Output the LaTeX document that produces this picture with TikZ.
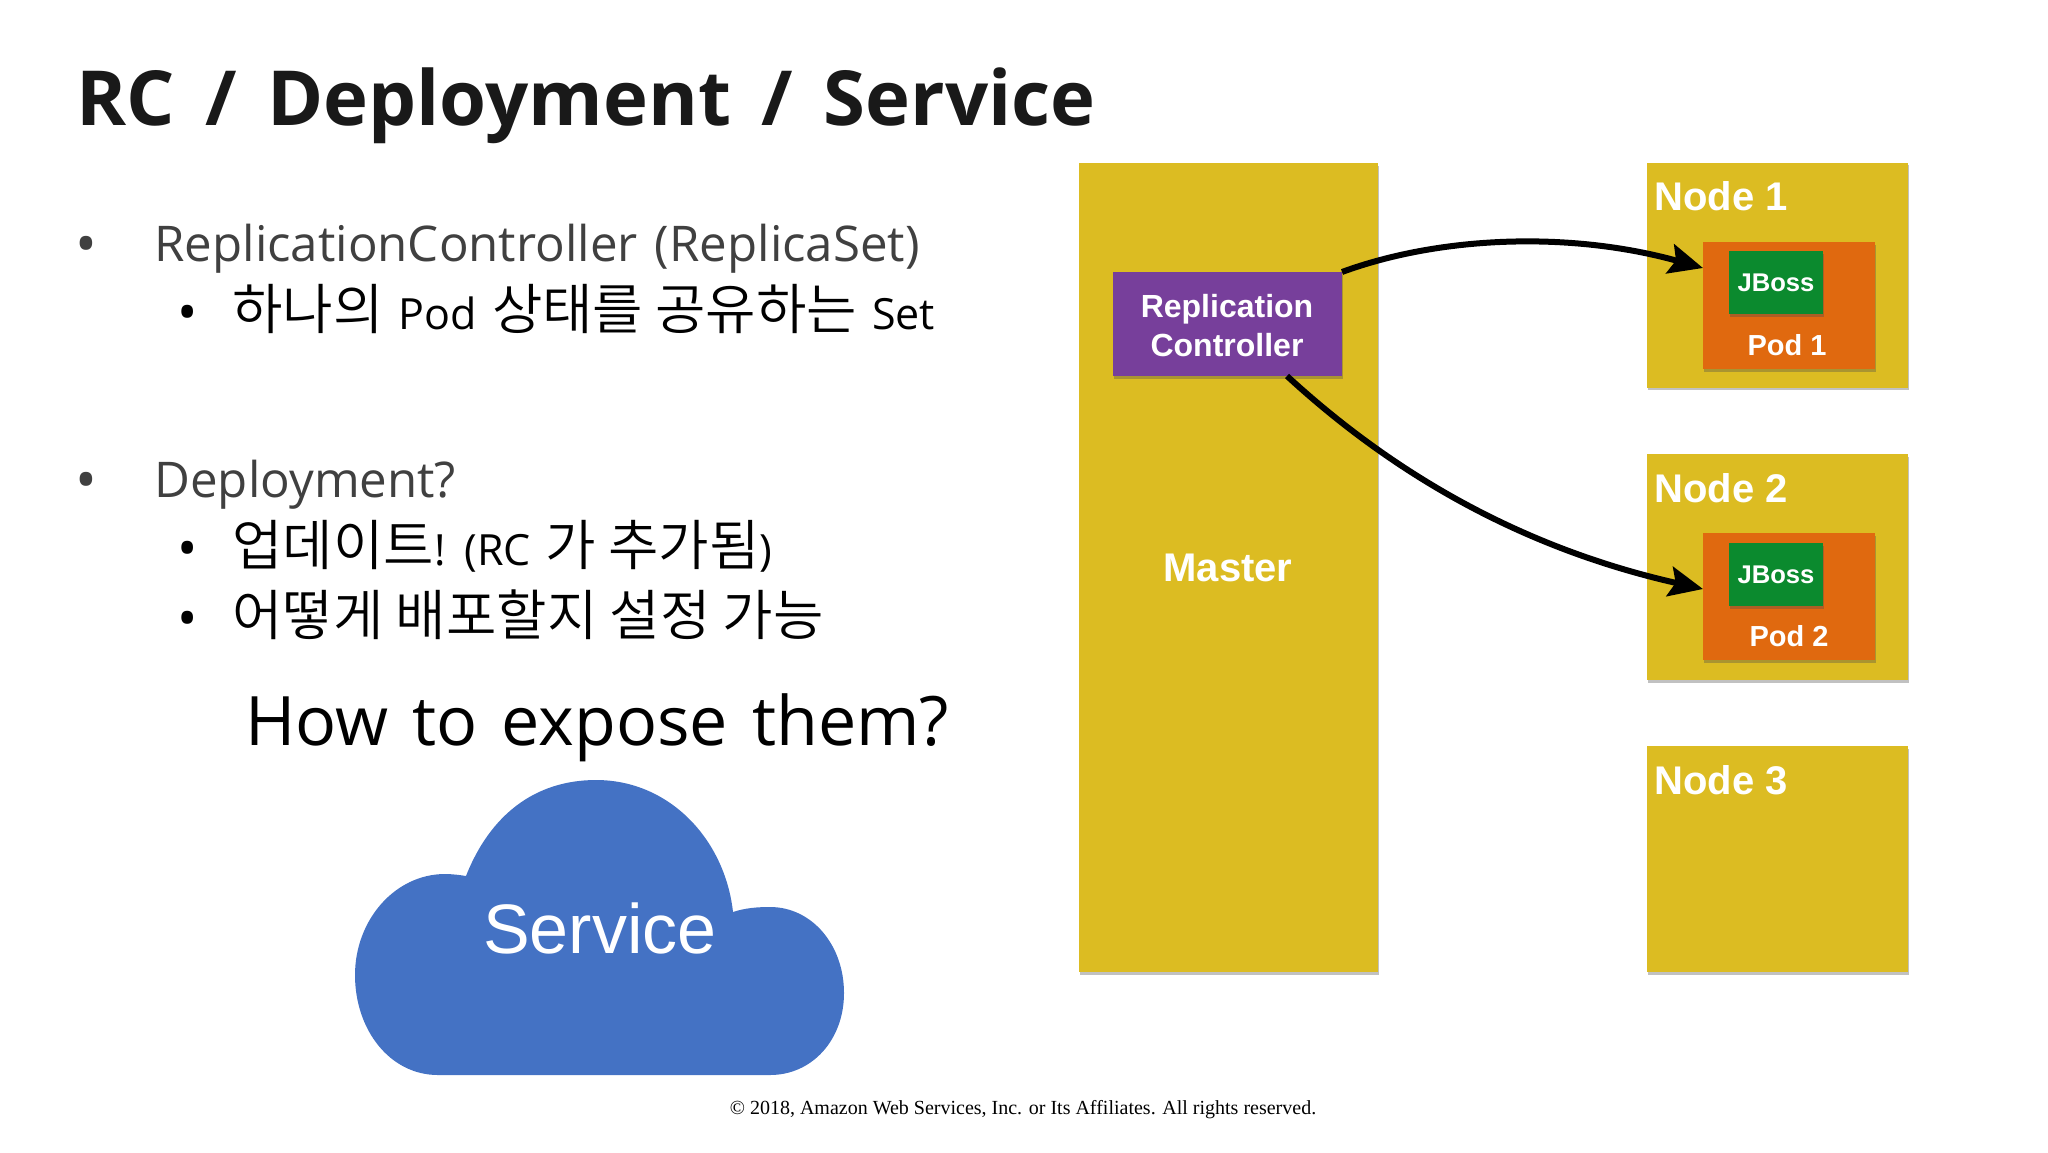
\documentclass[tikz,border=0pt]{standalone}
\usepackage{fontspec}
\setmainfont[WordSpace=1.35]{Open Sans}
\newfontfamily\titlefont[WordSpace=1.55]{Open Sans}
\newfontfamily\krfont{Noto Sans CJK KR DemiLight}
\newfontfamily\boxfont{Liberation Sans}
\newfontfamily\footfont{Liberation Serif}
\usetikzlibrary{arrows.meta,shadows}
\definecolor{masteryellow}{HTML}{DCBC22}
\definecolor{rcpurple}{HTML}{773F9B}
\definecolor{podorange}{HTML}{E0690F}
\definecolor{jbossgreen}{HTML}{0B8A2E}
\definecolor{cloudblue}{HTML}{4472C4}
\definecolor{bodygray}{HTML}{404040}
\newcommand{\kr}[1]{{\krfont\fontsize{27.4}{32}\selectfont #1}}
\tikzset{
	box/.style={anchor=north west,inner sep=0pt,outer sep=0pt,text=white,
		font=\boxfont\bfseries,drop shadow={shadow xshift=0.6pt,shadow yshift=-1.4pt,opacity=0.35,fill=black!70}},
	boxlabel/.style={text=white,inner sep=0pt,font=\boxfont\bfseries\fontsize{20}{24}\selectfont},
	outer/.style={anchor=base west,inner sep=0pt,text=bodygray,font=\fontsize{24.6}{28}\selectfont},
	inner/.style={anchor=base west,inner sep=0pt,text=black,font=\fontsize{21.5}{28}\selectfont},
	dotouter/.style={anchor=base west,inner sep=0pt,text=bodygray,font=\fontsize{29}{28}\selectfont},
	dotinner/.style={anchor=base west,inner sep=0pt,text=black,font=\fontsize{27}{28}\selectfont},
	link/.style={line width=3pt,-{Stealth[length=17pt,width=15pt,inset=3pt]}}
}
\begin{document}
\begin{tikzpicture}[x=0.5pt,y=-0.5pt]
	\useasboundingbox (0,0) rectangle (2048,1152);
	\node [anchor=base west,inner sep=0pt,text=black!90,font=\titlefont\bfseries\fontsize{38}{48}\selectfont] (title) at (76,125) {RC / Deployment / Service};
	% left column
	\node [dotouter] (b1) at (75,264) {•};
	\node [outer] (t1) at (154,261) {ReplicationController (ReplicaSet)};
	\node [dotinner] (b2) at (177,331) {•};
	\node [inner] (t2) at (232,329) {\kr{하나의} Pod \kr{상태를 공유하는} Set};
	\node [dotouter] (b3) at (75,500) {•};
	\node [outer] (t3) at (154,497) {Deployment?};
	\node [dotinner] (b4) at (177,567) {•};
	\node [inner] (t4) at (232,565) {\kr{업데이트}! (RC \kr{가 추가됨})};
	\node [dotinner] (b5) at (177,637) {•};
	\node [inner] (t5) at (232,635) {\kr{어떻게 배포할지 설정 가능}};
	\node [anchor=base west,inner sep=0pt,font=\fontsize{34.1}{42}\selectfont] (expose) at (245,745) {How to expose them?};
	% cloud
	\fill [cloudblue] (438,1075) .. controls (390,1075) and (355,1030) .. (355,975)
		.. controls (355,920) and (395,874) .. (445,874)
		.. controls (452,874) and (460,875) .. (466,876)
		.. controls (490,815) and (535,780) .. (596,780)
		.. controls (670,780) and (725,840) .. (733,912)
		.. controls (745,908) and (757,907) .. (770,907)
		.. controls (812,907) and (844,945) .. (844,993)
		.. controls (844,1040) and (812,1075) .. (770,1075) -- cycle;
	\node [anchor=base,inner sep=0pt,text=white,font=\boxfont\fontsize{35}{42}\selectfont] (service) at (600,953) {Service};
	\node [anchor=base,inner sep=0pt,font=\footfont\fontsize{10}{12}\selectfont] (copyright) at (1023,1114) {© 2018, Amazon Web Services, Inc. or Its Affiliates. All rights reserved.};
	% master and nodes
	\node [box,fill=masteryellow,minimum width=149.5pt,minimum height=404.5pt] (master) at (1079,163) {};
	\node [boxlabel] (masterlabel) at (1228,568) {Master};
	\node [box,fill=rcpurple,minimum width=114.5pt,minimum height=52pt] (rc) at (1113,272) {};
	\node [align=center,inner sep=0pt,text=white,font=\boxfont\bfseries\fontsize{16}{19.5}\selectfont] (rclabel) at (1227,326) {Replication\\Controller};
	\node [box,fill=masteryellow,minimum width=130.5pt,minimum height=112.5pt] (node1) at (1647,162.5) {};
	\node [box,fill=masteryellow,minimum width=130.5pt,minimum height=113pt] (node2) at (1647,454) {};
	\node [box,fill=masteryellow,minimum width=130.5pt,minimum height=113pt] (node3) at (1647,746) {};
	\node [boxlabel,anchor=base west] (n1) at (1654,210) {Node 1};
	\node [boxlabel,anchor=base west] (n2) at (1654,502) {Node 2};
	\node [boxlabel,anchor=base west] (n3) at (1654,794) {Node 3};
	\node [box,fill=podorange,minimum width=86pt,minimum height=63.5pt] (pod1) at (1703,242) {};
	\node [box,fill=podorange,minimum width=86pt,minimum height=63.5pt] (pod2) at (1703,533) {};
	\node [box,fill=jbossgreen,minimum width=47pt,minimum height=31.5pt,font=\boxfont\bfseries\fontsize{12.8}{15}\selectfont] (jboss1) at (1729,251) {JBoss};
	\node [box,fill=jbossgreen,minimum width=47pt,minimum height=31.5pt,font=\boxfont\bfseries\fontsize{12.8}{15}\selectfont] (jboss2) at (1729,543) {JBoss};
	\node [text=white,inner sep=0pt,font=\boxfont\bfseries\fontsize{14.5}{17}\selectfont] (p1) at (1787,345) {Pod 1};
	\node [text=white,inner sep=0pt,font=\boxfont\bfseries\fontsize{14.5}{17}\selectfont] (p2) at (1789,636) {Pod 2};
	% arrows
	\coordinate (rcout) at (1287,376);
	\coordinate (in1) at (1703,268);
	\coordinate (in2) at (1703,589);
	\draw [link] (rc.north east) .. controls (1440,236) and (1570,231) .. (in1);
	\draw [link] (rcout) .. controls (1400,480) and (1530,550) .. (in2);
\end{tikzpicture}
\end{document}
